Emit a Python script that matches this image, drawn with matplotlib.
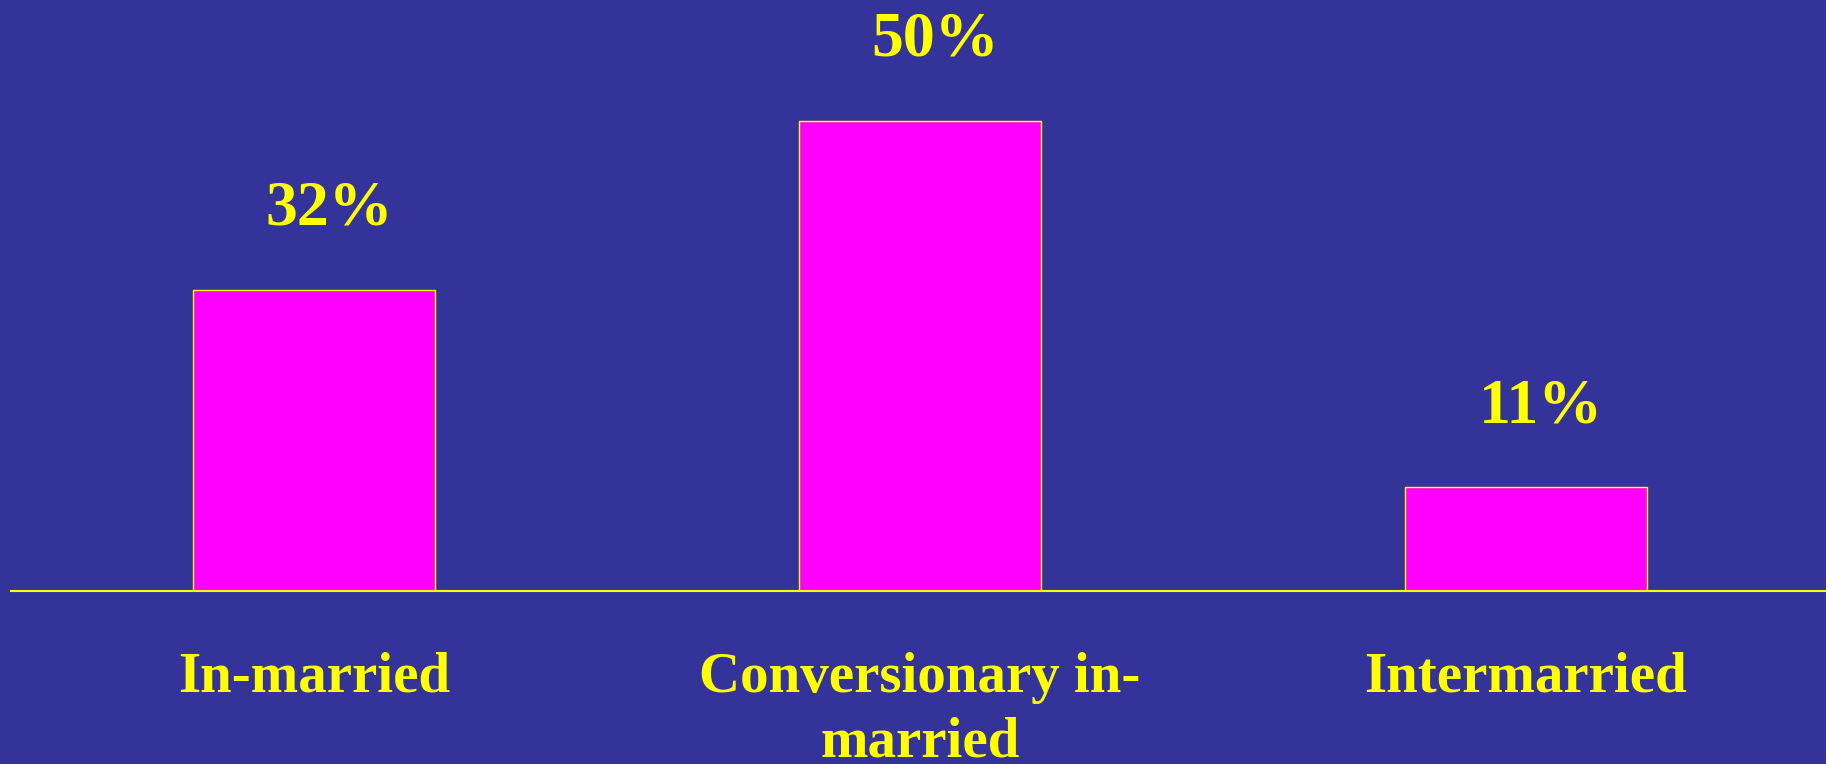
import numpy as np
import matplotlib
matplotlib.use('Agg')
from matplotlib import pyplot as plt

# 数据
categories = ['In-married', 'Conversionary in-\nmarried', 'Intermarried']
values = [32, 50, 11]
labels = ['32%', '50%', '11%']

# 颜色
bg_color = '#333399'
bar_color = '#FF00FF'
text_color = '#FFFF00'

plt.rcParams['font.family'] = ['Liberation Serif', 'DejaVu Serif']

fig = plt.figure(figsize=(18.26, 7.64), dpi=100)
fig.patch.set_facecolor(bg_color)
ax = fig.add_axes([0.006, 0.2268, 0.9956, 0.738])
ax.set_facecolor(bg_color)

x = np.arange(len(categories))
bars = ax.bar(x, values, width=0.4, color=bar_color, edgecolor=text_color, linewidth=1.0)

# 柱顶百分比
for rect, lab in zip(bars, labels):
    ax.annotate(lab, (rect.get_x() + rect.get_width() / 2, rect.get_height()),
                xytext=(11, 47), textcoords='offset points', ha='center', va='baseline',
                fontsize=46, fontweight='bold', color=text_color)

ax.set_xlim(-0.5, 2.5)
ax.set_ylim(0, 60)
ax.set_xticks(x)
ax.set_xticklabels(categories, fontsize=41, fontweight='bold', color=text_color,
                   linespacing=1.32)
ax.tick_params(axis='x', length=0, pad=44)
ax.set_yticks([])

for side in ['top', 'left', 'right']:
    ax.spines[side].set_visible(False)
ax.spines['bottom'].set_color(text_color)
ax.spines['bottom'].set_linewidth(1.5)

fig.savefig('out.png', dpi=100, facecolor=bg_color)
